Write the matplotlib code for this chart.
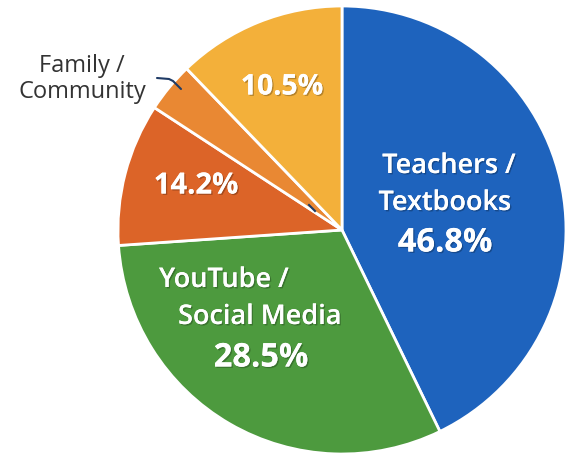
import matplotlib
matplotlib.use('Agg')
import matplotlib.pyplot as plt
import matplotlib.patheffects as pe

plt.rcParams['font.family'] = ['Open Sans', 'DejaVu Sans']

# slices clockwise from 12 o'clock
categories = ['Teachers /\nTextbooks', 'YouTube /\nSocial Media', 'Other', 'Family /\nCommunity', 'Online']
# drawn slice sizes
shares = [42.8, 31.1, 10.3, 3.6, 12.2]
# the percentages printed on the chart
pct_labels = ['46.8%', '28.5%', '14.2%', '', '10.5%']
colors = ['#1e63bd', '#4d9a3e', '#dc6428', '#e98833', '#f3b03a']

fig = plt.figure(figsize=(5.7, 4.59), dpi=100)
ax = fig.add_axes([0, 0, 1, 1])

wedges, _ = ax.pie(shares, colors=colors, startangle=90, counterclock=False,
                   center=(342, 229), radius=224, frame=True,
                   wedgeprops=dict(edgecolor='white', linewidth=2))
ax.set_xlim(0, 570)
ax.set_ylim(0, 459)
ax.set_aspect('equal')
ax.axis('off')

H = 459
shadow = [pe.withSimplePatchShadow(offset=(1, -1), shadow_rgbFace='black', alpha=0.25), pe.Normal()]
lab = dict(ha='center', va='center', color='white', fontsize=19.5,
           fontweight='semibold', path_effects=shadow)
pct = dict(ha='center', va='center', color='white', fontweight='bold', path_effects=shadow)

# Teachers / Textbooks
t1, t2 = categories[0].split('\n')
ax.text(449, H - 166, t1, **lab)
ax.text(445, H - 203, t2, **lab)
ax.text(445, H - 243, pct_labels[0], fontsize=23.5, **pct)

# YouTube / Social Media
y1, y2 = categories[1].split('\n')
ax.text(224, H - 280, y1, **lab)
ax.text(260, H - 317, y2, **lab)
ax.text(261, H - 358, pct_labels[1], fontsize=23.5, **pct)

ax.text(196, H - 186, pct_labels[2], fontsize=21, **pct)
ax.text(282, H - 87, pct_labels[4], fontsize=20.5, **pct)

# outside label for the thin slice
ax.text(82, H - 79, categories[3], ha='center', va='center', color='#333333',
        fontsize=17, linespacing=1.15)
ax.plot([157, 169, 173, 181], [H - 78, H - 79, H - 81, H - 89], color='#1f3b66', lw=1.5,
        solid_capstyle='round')
ax.plot([309, 315], [H - 205, H - 211], color='#1f3b66', lw=1.5)

fig.savefig('out.png', dpi=100)
